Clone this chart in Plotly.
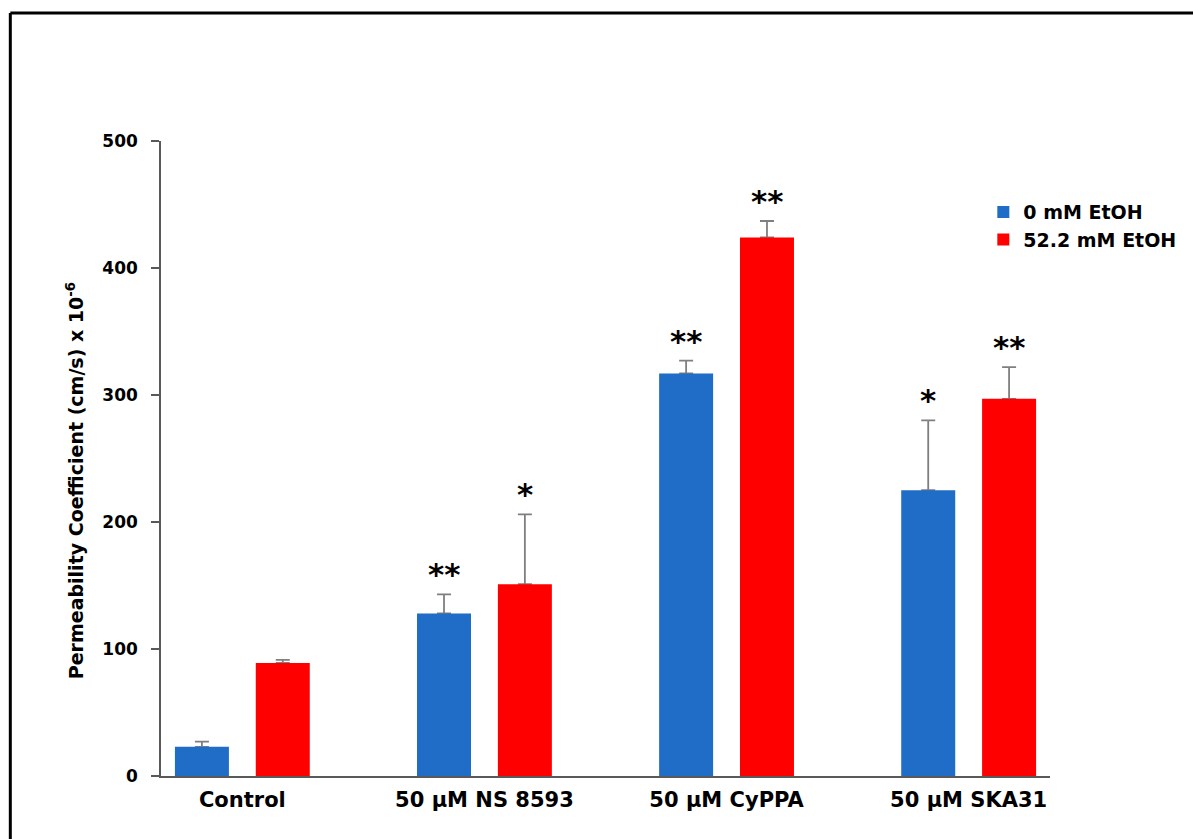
import plotly.graph_objects as go

categories = ["Control", "50 µM NS 8593", "50 µM CyPPA", "50 µM SKA31"]
series_names = ["0 mM EtOH", "52.2 mM EtOH"]
values_0mM = [23, 128, 317, 225]
values_52mM = [89, 151, 424, 297]
err_0mM = [4, 15, 10, 55]
err_52mM = [2.5, 55, 13, 25]
stars_0mM = ["", "**", "**", "*"]
stars_52mM = ["", "*", "**", "**"]
y_ticks = [0, 100, 200, 300, 400, 500]
y_title = "Permeability Coefficient (cm/s) x 10<sup>-6</sup>"

colors = ["#1F6DC6", "#FF0000"]
FONT = "DejaVu Sans"
BAR_W = 0.223
CENTER_SHIFT = 0.167

xpos = list(range(len(categories)))
series = [
    (series_names[0], values_0mM, err_0mM, colors[0], -CENTER_SHIFT),
    (series_names[1], values_52mM, err_52mM, colors[1], CENTER_SHIFT),
]

fig = go.Figure()
# error bars first (on transparent bars) so the visible bars cover their lower ends
for name, vals, errs, col, shift in series:
    fig.add_trace(go.Bar(
        x=xpos, y=vals, width=BAR_W, offset=shift - BAR_W / 2, showlegend=False,
        marker_color="rgba(0,0,0,0)", marker_line_width=0, hoverinfo="skip",
        error_y=dict(type="data", array=errs, arrayminus=[0] * len(errs), symmetric=False,
                     color="#7F7F7F", thickness=1.8, width=7),
    ))
for name, vals, errs, col, shift in series:
    fig.add_trace(go.Bar(
        x=xpos, y=vals, width=BAR_W, offset=shift - BAR_W / 2, name=name,
        marker_color=col, marker_line_width=0,
    ))

# significance asterisks, placed above each error bar
annotations = []
for i in xpos:
    for name, vals, errs, col, shift in series:
        stars = stars_0mM if name == series_names[0] else stars_52mM
        if stars[i]:
            annotations.append(dict(x=i + shift, y=vals[i] + errs[i], text=stars[i], showarrow=False,
                                    xref="x", yref="y", yanchor="bottom", yshift=0,
                                    font=dict(family=FONT, size=31, color="black", weight="bold")))

# y-axis title (placed slightly below centre, as in the reference)
annotations.append(dict(x=-0.0965, y=0.4646, xref="paper", yref="paper", text=y_title,
                        textangle=-90, showarrow=False, xanchor="center", yanchor="middle",
                        font=dict(family=FONT, size=19, color="black", weight="bold")))

fig.update_layout(
    width=1193, height=839,
    margin=dict(l=161, r=141, t=141, b=63),
    paper_bgcolor="white", plot_bgcolor="white",
    barmode="overlay",
    showlegend=True,
    legend=dict(x=0.925, y=0.918, xanchor="left", yanchor="top", bgcolor="rgba(0,0,0,0)",
                font=dict(family=FONT, size=19, color="black", weight="bold"),
                itemwidth=30, tracegroupgap=0),
    annotations=annotations,
    font=dict(family=FONT, color="black"),
)
fig.update_xaxes(
    range=[-0.336, 3.336], tickvals=xpos, ticktext=categories,
    showline=True, linecolor="#595959", linewidth=1.5, ticks="", showgrid=False, zeroline=False,
    tickfont=dict(family=FONT, size=21, color="black", weight="bold"), ticklabelstandoff=4,
)
fig.update_yaxes(
    range=[0, 500], tickvals=y_ticks, showline=True, linecolor="#595959", linewidth=1.5,
    ticks="outside", ticklen=8, tickcolor="#595959", tickwidth=1.5, showgrid=False, zeroline=False,
    tickfont=dict(family=FONT, size=17, color="black", weight="bold"), ticklabelstandoff=10,
)
# outer frame (left and top edges visible in the reference)
fig.add_shape(type="line", xref="paper", yref="paper", x0=-0.1695, x1=-0.1695, y0=1.2016, y1=-0.12,
              line=dict(color="black", width=3))
fig.add_shape(type="line", xref="paper", yref="paper", x0=-0.1695, x1=1.2, y0=1.2016, y1=1.2016,
              line=dict(color="black", width=3))

fig.write_html("out.html", config={"displayModeBar": False},
               post_script="document.body.style.margin='0';")
